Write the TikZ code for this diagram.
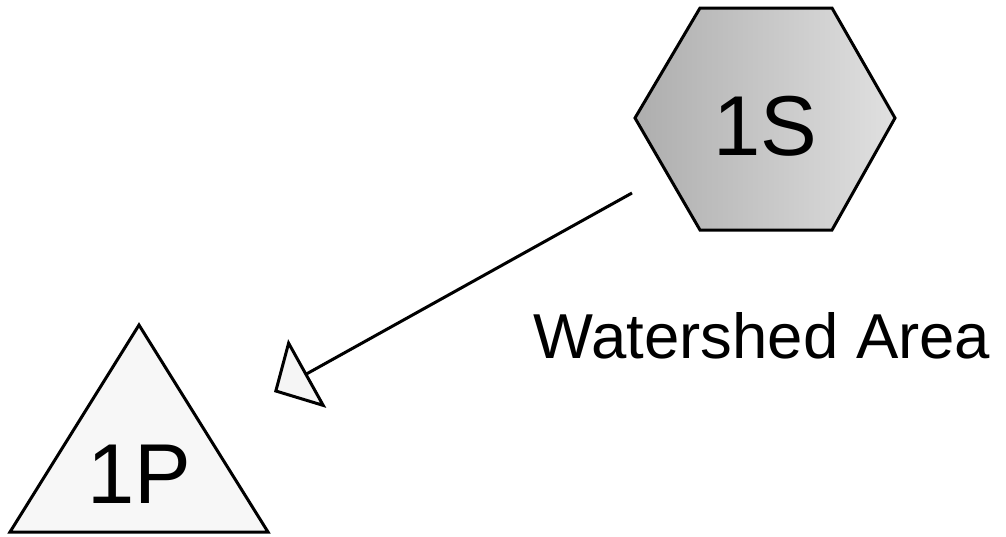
\documentclass[tikz,border=0pt]{standalone}
\usepackage{fontspec}
\setmainfont{Liberation Sans}
\usetikzlibrary{arrows.meta}
\tikzset{
  outline/.style={draw=black, line width=3pt, line join=miter},
  bigtext/.style={inner sep=0pt, anchor=base, font=\fontsize{85}{90}\selectfont},
  labeltext/.style={inner sep=0pt, anchor=base, font=\fontsize{63.5}{70}\selectfont},
  flow/.style={draw=black, line width=3pt,
    -{Triangle[length=38pt, width=78pt, fill=black!4, line join=miter]}}
}
\begin{document}
\begin{tikzpicture}[x=1pt, y=-1pt]
\useasboundingbox (0,0) rectangle (1006,536);
% hexagon (source)
\shade[left color=black!32, right color=black!12]
  (635,118) -- (700,8) -- (832,8) -- (895,118) -- (832,230) -- (700,230) -- cycle;
\draw[outline] (635,118) -- (700,8) -- (832,8) -- (895,118) -- (832,230) -- (700,230) -- cycle;
\node[bigtext] (S) at (765,155) {1S};
% triangle (pond)
\fill[black!3] (139,325) -- (268,532) -- (10,532) -- cycle;
\draw[outline] (139,325) -- (268,532) -- (10,532) -- cycle;
\node[bigtext] (P) at (139,503) {1P};
% label
\node[labeltext] (L) at (762,358) {Watershed Area};
% connector
\coordinate (from) at (632,193);
\coordinate (to) at (274,392);
\draw[flow] (from) -- (to);
\end{tikzpicture}
\end{document}
